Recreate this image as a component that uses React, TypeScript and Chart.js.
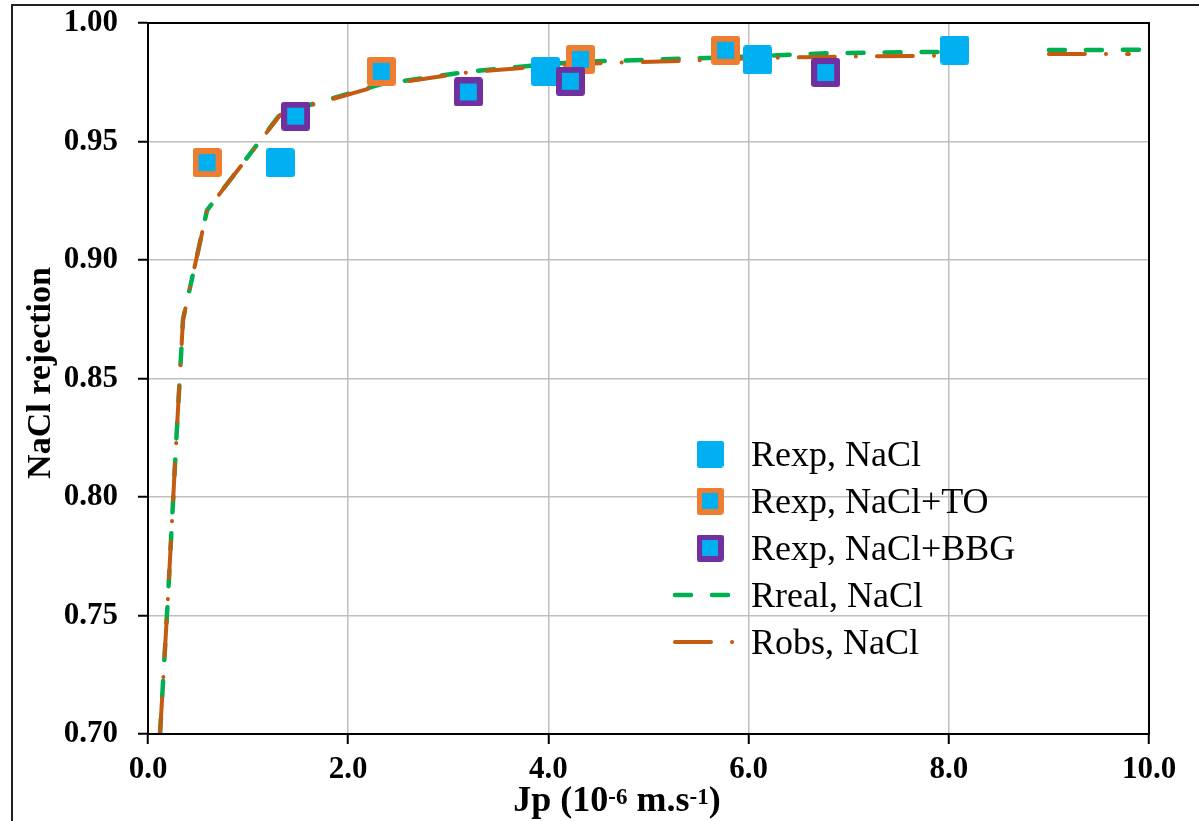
import React, { useEffect, useRef } from "react";
import { Chart, registerables } from "chart.js";

Chart.register(...registerables);

// ---- Data ----
const rexpNaClJp = [1.32, 3.97, 6.09, 8.06];
const rexpNaClR = [0.941, 0.9796, 0.9844, 0.9886];

const rexpToJp = [0.59, 2.33, 4.32, 5.77];
const rexpToR = [0.9411, 0.9796, 0.9846, 0.9885];

const rexpBbgJp = [1.475, 3.2, 4.22, 6.77];
const rexpBbgR = [0.9607, 0.9709, 0.9754, 0.9791];

const rrealJp = [0.12, 0.2, 0.28, 0.35, 0.59, 1.32, 1.475, 2.33, 3.2, 3.97, 4.32, 5.77, 6.09, 6.77, 8.06, 8.5, 9.0, 10.0];
const rrealR = [0.7, 0.758, 0.822, 0.875, 0.921, 0.9615, 0.9637, 0.9742, 0.9795, 0.9825, 0.9836, 0.9855, 0.986, 0.9872, 0.9879, null, 0.9886, 0.9887];

const robsJp = [0.12, 0.2, 0.28, 0.35, 0.59, 1.32, 1.475, 2.33, 3.2, 3.97, 4.32, 5.77, 6.09, 6.77, 8.06, 8.5, 9.0, 9.8];
const robsR = [0.7, 0.758, 0.822, 0.875, 0.921, 0.9612, 0.9635, 0.9738, 0.9792, 0.9818, 0.9828, 0.9846, 0.9852, 0.9857, 0.9863, null, 0.9869, 0.9869];

const xTicks = [0, 2, 4, 6, 8, 10];
const yTicks = [0.7, 0.75, 0.8, 0.85, 0.9, 0.95, 1.0];

const legendLabels = ["Rexp, NaCl", "Rexp, NaCl+TO", "Rexp, NaCl+BBG", "Rreal, NaCl", "Robs, NaCl"];

const CYAN = "#00B0F0";
const ORANGE = "#ED7D31";
const PURPLE = "#7030A0";
const GREEN = "#00B050";
const BROWN = "#C55A11";

const SERIF = '"Liberation Serif", "Times New Roman", serif';

function roundRect(ctx: CanvasRenderingContext2D, x: number, y: number, w: number, h: number, r: number) {
  ctx.beginPath();
  ctx.moveTo(x + r, y);
  ctx.lineTo(x + w - r, y);
  ctx.quadraticCurveTo(x + w, y, x + w, y + r);
  ctx.lineTo(x + w, y + h - r);
  ctx.quadraticCurveTo(x + w, y + h, x + w - r, y + h);
  ctx.lineTo(x + r, y + h);
  ctx.quadraticCurveTo(x, y + h, x, y + h - r);
  ctx.lineTo(x, y + r);
  ctx.quadraticCurveTo(x, y, x + r, y);
  ctx.closePath();
}

function makeMarker(size: number, outer: string | null, border: number): HTMLCanvasElement {
  const c = document.createElement("canvas");
  c.width = size;
  c.height = size;
  const ctx = c.getContext("2d")!;
  if (outer) {
    ctx.fillStyle = outer;
    roundRect(ctx, 0, 0, size, size, 3);
    ctx.fill();
    ctx.fillStyle = CYAN;
    ctx.fillRect(border, border, size - 2 * border, size - 2 * border);
  } else {
    ctx.fillStyle = CYAN;
    roundRect(ctx, 0, 0, size, size, 3);
    ctx.fill();
  }
  return c;
}

const toPts = (xs: number[], ys: (number | null)[]) => xs.map((x, i) => ({ x, y: ys[i] }));

export default function App() {
  const ref = useRef<HTMLCanvasElement | null>(null);

  useEffect(() => {
    const canvas = ref.current;
    if (!canvas) return;

    const mCyan = makeMarker(29, null, 0);
    const mOrange = makeMarker(29, ORANGE, 6);
    const mPurple = makeMarker(29, PURPLE, 6);

    const GREEN_DASH = [16, 21];
    const BROWN_DASH = [36, 21, 0.1, 21];

    const decor = {
      id: "decor",
      beforeDraw(chart: any) {
        const ctx = chart.ctx as CanvasRenderingContext2D;
        ctx.save();
        ctx.fillStyle = "#fff";
        ctx.fillRect(0, 0, chart.width, chart.height);
        ctx.strokeStyle = "#222";
        ctx.lineWidth = 2;
        ctx.beginPath();
        ctx.moveTo(12, chart.height);
        ctx.lineTo(12, 5);
        ctx.lineTo(chart.width, 5);
        ctx.stroke();
        ctx.restore();
      },
      afterDraw(chart: any) {
        const ctx = chart.ctx as CanvasRenderingContext2D;
        const a = chart.chartArea;
        ctx.save();
        // plot border
        ctx.strokeStyle = "#000";
        ctx.lineWidth = 2;
        ctx.strokeRect(a.left, a.top, a.right - a.left, a.bottom - a.top);

        // y title
        ctx.fillStyle = "#000";
        ctx.font = `bold 34px ${SERIF}`;
        ctx.textAlign = "center";
        ctx.textBaseline = "alphabetic";
        ctx.save();
        ctx.translate(50, 373);
        ctx.rotate(-Math.PI / 2);
        ctx.fillText("NaCl rejection", 0, 0);
        ctx.restore();

        // x title with superscripts
        const parts: [string, boolean][] = [
          ["Jp (10", false],
          ["-6", true],
          [" m.s", false],
          ["-1", true],
          [")", false],
        ];
        const mainFont = `bold 36px ${SERIF}`;
        const supFont = `bold 23px ${SERIF}`;
        let total = 0;
        for (const [t, sup] of parts) {
          ctx.font = sup ? supFont : mainFont;
          total += ctx.measureText(t).width;
        }
        let x = 617 - total / 2;
        const base = 811;
        ctx.textAlign = "left";
        for (const [t, sup] of parts) {
          ctx.font = sup ? supFont : mainFont;
          ctx.fillText(t, x, sup ? base - 7 : base);
          x += ctx.measureText(t).width;
        }

        // legend
        const rowY = [454, 501, 548, 595, 642];
        ctx.font = `36px ${SERIF}`;
        ctx.textAlign = "left";
        ctx.textBaseline = "alphabetic";
        const mk = [mCyan, mOrange, mPurple];
        for (let i = 0; i < 3; i++) {
          ctx.drawImage(mk[i], 710 - 13.5, rowY[i] - 13.5, 27, 27);
        }
        ctx.lineCap = "round";
        ctx.strokeStyle = GREEN;
        ctx.lineWidth = 4.5;
        ctx.setLineDash(GREEN_DASH);
        ctx.beginPath();
        ctx.moveTo(675, rowY[3]);
        ctx.lineTo(730, rowY[3]);
        ctx.stroke();
        ctx.strokeStyle = BROWN;
        ctx.lineWidth = 4;
        ctx.setLineDash(BROWN_DASH);
        ctx.beginPath();
        ctx.moveTo(675, rowY[4]);
        ctx.lineTo(734, rowY[4]);
        ctx.stroke();
        ctx.setLineDash([]);
        ctx.fillStyle = "#000";
        for (let i = 0; i < legendLabels.length; i++) {
          ctx.fillText(legendLabels[i], 751, rowY[i] + 12);
        }
        ctx.restore();
      },
    };

    const tickFont = { family: SERIF, size: 31, weight: "bold" as const };

    const chart = new Chart(canvas, {
      type: "scatter",
      data: {
        datasets: [
          {
            label: legendLabels[0],
            data: toPts(rexpNaClJp, rexpNaClR),
            pointStyle: mCyan,
            pointRadius: 15,
            showLine: false,
            order: 2,
          },
          {
            label: legendLabels[1],
            data: toPts(rexpToJp, rexpToR),
            pointStyle: mOrange,
            pointRadius: 15,
            showLine: false,
            order: 1,
          },
          {
            label: legendLabels[2],
            data: toPts(rexpBbgJp, rexpBbgR),
            pointStyle: mPurple,
            pointRadius: 15,
            showLine: false,
            order: 0,
          },
          {
            label: legendLabels[3],
            data: toPts(rrealJp, rrealR),
            showLine: true,
            pointRadius: 0,
            borderColor: GREEN,
            borderWidth: 4.5,
            borderDash: GREEN_DASH,
            borderCapStyle: "round",
            tension: 0,
            spanGaps: false,
            fill: false,
            order: 4,
          },
          {
            label: legendLabels[4],
            data: toPts(robsJp, robsR),
            showLine: true,
            pointRadius: 0,
            borderColor: BROWN,
            borderWidth: 4,
            borderDash: BROWN_DASH,
            borderCapStyle: "round",
            tension: 0,
            spanGaps: false,
            fill: false,
            order: 3,
          },
        ] as any,
      },
      options: {
        animation: false,
        responsive: false,
        devicePixelRatio: 1,
        events: [],
        layout: { autoPadding: false, padding: { left: 0, top: 23, right: 50, bottom: 0 } },
        plugins: {
          legend: { display: false },
          tooltip: { enabled: false },
          title: { display: false },
        },
        scales: {
          x: {
            type: "linear",
            min: 0,
            max: 10,
            afterBuildTicks: (s: any) => {
              s.ticks = xTicks.map((v) => ({ value: v }));
            },
            ticks: {
              callback: (v: any) => Number(v).toFixed(1),
              font: tickFont,
              color: "#000",
              padding: 7,
              maxRotation: 0,
              autoSkip: false,
            },
            grid: {
              color: "#bfbfbf",
              lineWidth: 1.5,
              tickColor: "#000",
              tickLength: 10,
              tickWidth: 2,
            },
            border: { display: true, color: "#000", width: 2 },
            afterFit: (s: any) => {
              s.height = 87;
              s.paddingLeft = 0;
              s.paddingRight = 0;
            },
          },
          y: {
            type: "linear",
            min: 0.7,
            max: 1.0,
            afterBuildTicks: (s: any) => {
              s.ticks = yTicks.map((v) => ({ value: v }));
            },
            ticks: {
              callback: (v: any) => Number(v).toFixed(2),
              font: tickFont,
              color: "#000",
              padding: 20,
              autoSkip: false,
            },
            grid: {
              color: "#bfbfbf",
              lineWidth: 1.5,
              tickColor: "#000",
              tickLength: 10,
              tickWidth: 2,
            },
            border: { display: true, color: "#000", width: 2 },
            afterFit: (s: any) => {
              s.width = 148;
              s.paddingTop = 0;
              s.paddingBottom = 0;
            },
          },
        },
      } as any,
      plugins: [decor],
    });

    return () => {
      chart.destroy();
    };
  }, []);

  return (
    <div style={{ position: "absolute", left: 0, top: 0, width: 1199, height: 821, background: "#fff" }}>
      <canvas ref={ref} width={1199} height={821} style={{ width: 1199, height: 821, display: "block" }} />
    </div>
  );
}
